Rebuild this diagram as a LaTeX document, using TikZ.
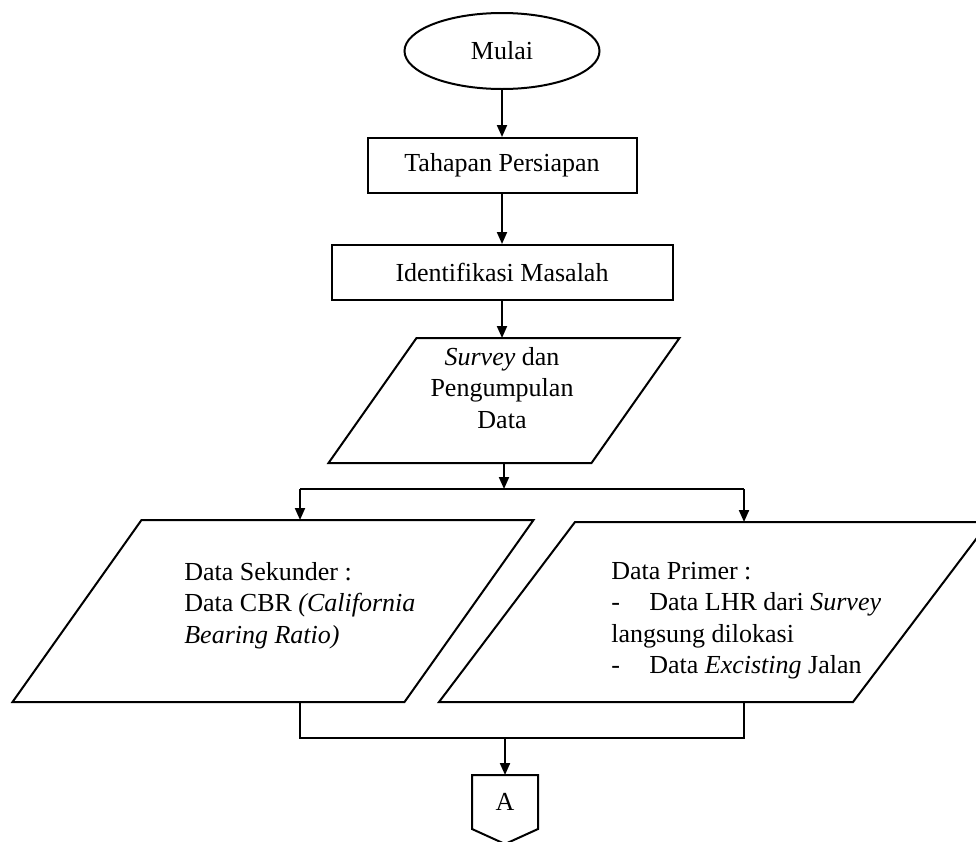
\documentclass[tikz,border=0pt]{standalone}
\usepackage{fontspec}
\setmainfont{Liberation Serif}
\usetikzlibrary{positioning, arrows.meta, shapes.geometric}

\begin{document}
\begin{tikzpicture}[
  x=1pt, y=-1pt,
  font=\fontsize{26}{31.5}\selectfont,
  line width=2pt,
  terminal/.style={draw, ellipse, minimum width=195pt, minimum height=76pt},
  box/.style={draw, rectangle, minimum height=55pt},
  io/.style={rectangle, inner sep=0pt},
  arrow/.style={-{Triangle[length=12pt, width=10pt]}},
  line/.style={-}
]
\useasboundingbox (0,0) rectangle (976,841);

% Nodes
\node[terminal] (mulai) at (502,51) {Mulai};
\node[box, minimum width=269pt, below=47pt of mulai] (persiapan) {Tahapan Persiapan};
\node[box, minimum width=341pt, below=50pt of persiapan] (masalah) {Identifikasi Masalah};
\node[io, minimum width=261pt, minimum height=123pt] (survey) at (504,400.5) {};
\node[anchor=base, align=center] (surveyText) at (502,428) {\textit{Survey} dan\\Pengumpulan\\Data};
\node[io, minimum width=390pt, minimum height=180pt] (sekunder) at (273,611) {};
\node[anchor=base west, align=left] (sekunderText) at (180,643) {Data Sekunder :\\Data CBR \textit{(California}\\\textit{Bearing Ratio)}};
\node[io, minimum width=412pt, minimum height=178pt] (primer) at (714,612) {};
\node[anchor=base west, align=left] (primerText) at (607,673.5) {Data Primer :\\\makebox[38pt][l]{-}Data LHR dari \textit{Survey}\\langsung dilokasi\\\makebox[38pt][l]{-}Data \textit{Excisting} Jalan};
\node[minimum width=64pt, minimum height=52pt] (konektor) at (505,802) {A};

% Shapes
\foreach \n/\s in {survey/44, sekunder/64.5, primer/68}
  \draw ([xshift=\s pt]\n.north west) -- ([xshift=\s pt]\n.north east) -- ([xshift=-\s pt]\n.south east) -- ([xshift=-\s pt]\n.south west) -- cycle;
\draw (konektor.north west) -- (konektor.north east) -- (konektor.south east) -- ([yshift=-15pt]konektor.south) -- (konektor.south west) -- cycle;

% Branch points
\coordinate (split) at (504,489);
\coordinate (splitL) at (300,489);
\coordinate (splitR) at (744,489);
\coordinate (mergeL) at (300,738);
\coordinate (mergeR) at (744,738);
\coordinate (merge) at (konektor.north |- mergeL);

% Lines
\draw[arrow] (mulai) -- (persiapan);
\draw[arrow] (persiapan) -- (masalah);
\draw[arrow] (masalah) -- (masalah |- survey.north);
\draw[arrow] (survey) -- (split);
\draw[line] (splitL) -- (splitR);
\draw[arrow] (splitL) -- (splitL |- sekunder.north);
\draw[arrow] (splitR) -- (splitR |- primer.north);
\draw[line] (mergeL |- sekunder.south) -- (mergeL) -- (mergeR) -- (mergeR |- primer.south);
\draw[arrow] (merge) -- (konektor);

\end{tikzpicture}
\end{document}
